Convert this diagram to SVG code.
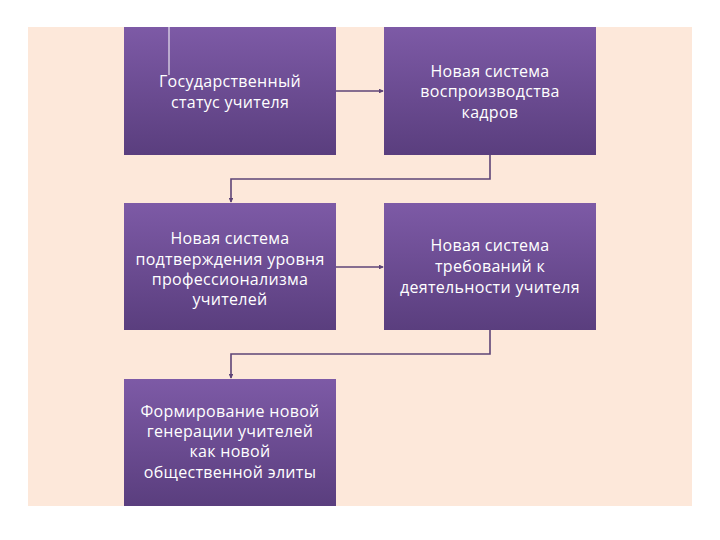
<svg xmlns="http://www.w3.org/2000/svg" width="720" height="540" viewBox="0 0 720 540">
<defs>
<linearGradient id="g" x1="0" y1="0" x2="0" y2="1">
<stop offset="0" stop-color="#7d5aa6"/>
<stop offset="1" stop-color="#5a3e7e"/>
</linearGradient>
<marker id="a" viewBox="0 0 6 6" refX="5" refY="3" markerWidth="3" markerHeight="3" orient="auto">
<path d="M0,0 L6,3 L0,6 z" fill="#5e4477"/>
</marker>
<style>
.box{fill:url(#g);}
.t{font-family:"Open Sans","Liberation Sans",Arial,sans-serif;font-size:16px;letter-spacing:0.3px;fill:#ffffff;text-anchor:middle;}
.c{fill:none;stroke:#5e4477;stroke-width:1.6;}
</style>
</defs>
<rect width="720" height="540" fill="#ffffff"/>
<rect x="28" y="27" width="664" height="479" fill="#fde8da"/>
<g id="n1">
<rect class="box" x="124" y="27" width="212" height="128"/>
<line x1="169" y1="25" x2="169" y2="75" stroke="#ffffff" stroke-width="1"/>
<text class="t" x="230" y="87">Государственный</text>
<text class="t" x="230" y="108">статус учителя</text>
</g>
<g id="n2">
<rect class="box" x="384" y="27" width="212" height="128"/>
<text class="t" x="490" y="77">Новая система</text>
<text class="t" x="490" y="97">воспроизводства</text>
<text class="t" x="490" y="118">кадров</text>
</g>
<g id="n3">
<rect class="box" x="124" y="203" width="212" height="127"/>
<text class="t" x="230" y="244">Новая система</text>
<text class="t" x="230" y="265">подтверждения уровня</text>
<text class="t" x="230" y="285">профессионализма</text>
<text class="t" x="230" y="305">учителей</text>
</g>
<g id="n4">
<rect class="box" x="384" y="203" width="212" height="127"/>
<text class="t" x="490" y="251">Новая система</text>
<text class="t" x="490" y="272">требований к</text>
<text class="t" x="490" y="293">деятельности учителя</text>
</g>
<g id="n5">
<rect class="box" x="124" y="379" width="212" height="127"/>
<text class="t" x="230" y="417">Формирование новой</text>
<text class="t" x="230" y="437">генерации учителей</text>
<text class="t" x="230" y="457">как новой</text>
<text class="t" x="230" y="478">общественной элиты</text>
</g>
<g id="connectors">
<path class="c" d="M336,91 H383" marker-end="url(#a)"/>
<path class="c" d="M490,155 V179 H231 V202" marker-end="url(#a)"/>
<path class="c" d="M336,267 H383" marker-end="url(#a)"/>
<path class="c" d="M490,330 V354 H231 V378" marker-end="url(#a)"/>
</g>
</svg>
